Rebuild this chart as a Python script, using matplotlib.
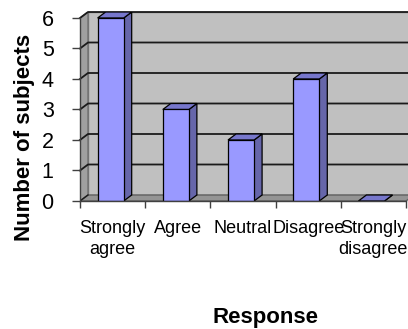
import matplotlib.pyplot as plt
from matplotlib.patches import Polygon

plt.rcParams['font.family'] = ['Liberation Sans', 'DejaVu Sans']

categories = ['Strongly\nagree', 'Agree', 'Neutral', 'Disagree', 'Strongly\ndisagree']
counts = [6, 3, 2, 4, 0]
y_ticks = [0, 1, 2, 3, 4, 5, 6]

W, H = 408, 329
fig = plt.figure(figsize=(W / 100, H / 100), dpi=100)

# front plane of the plot area in pixels, plus the 3-D depth offset
x0_px, x1_px = 80, 406
y0_px, y1_px = 201, 18
depth_px = (8, 6)
ncat = len(categories)
ymax = y_ticks[-1]
dx = depth_px[0] / ((x1_px - x0_px) / ncat)
dy = depth_px[1] / ((y0_px - y1_px) / ymax)

ax = fig.add_axes([x0_px / W, 1 - y0_px / H,
                   (x1_px - x0_px + depth_px[0]) / W,
                   (y0_px - y1_px + depth_px[1]) / H])
ax.set_xlim(-0.5, ncat - 0.5 + dx)
ax.set_ylim(0, ymax + dy)

left, right = -0.5, ncat - 0.5

# walls and floor
ax.add_patch(Polygon([(left + dx, dy), (right + dx, dy), (right + dx, ymax + dy), (left + dx, ymax + dy)],
                     closed=True, fc='#c0c0c0', ec='#808080', lw=1.0, zorder=0))
ax.add_patch(Polygon([(left, 0), (left + dx, dy), (left + dx, ymax + dy), (left, ymax)],
                     closed=True, fc='#a0a0a0', ec='#707070', lw=1.0, zorder=0.5))
ax.add_patch(Polygon([(left, 0), (right, 0), (right + dx, dy), (left + dx, dy)],
                     closed=True, fc='#949494', ec='#606060', lw=1.0, zorder=0.5))

# gridlines on the side wall and back wall
for v in y_ticks[1:]:
    ax.plot([left, left + dx, right + dx], [v, v + dy, v + dy],
            color='#1a1a1a', lw=1.3, zorder=1, clip_on=False)
ax.plot([left, left + dx], [0, dy], color='#1a1a1a', lw=1.0, zorder=1)

# 3-D bars
w = 0.4
shift = -0.03
for i, v in enumerate(counts):
    xl = i - w / 2 + shift
    xr = xl + w
    ax.add_patch(Polygon([(xr, 0), (xr + dx, dy), (xr + dx, v + dy), (xr, v)],
                         closed=True, fc='#6666aa', ec='black', lw=0.9, zorder=3))
    ax.add_patch(Polygon([(xl, v), (xr, v), (xr + dx, v + dy), (xl + dx, v + dy)],
                         closed=True, fc='#7777cc', ec='black', lw=0.9, zorder=3))
    if v > 0:
        ax.add_patch(Polygon([(xl, 0), (xr, 0), (xr, v), (xl, v)],
                             closed=True, fc='#9999ff', ec='black', lw=0.9, zorder=4))

# axes lines and ticks
for s in ['top', 'right']:
    ax.spines[s].set_visible(False)
ax.spines['left'].set_bounds(0, ymax)
ax.spines['bottom'].set_bounds(left, right)
for s in ['left', 'bottom']:
    ax.spines[s].set_color('#404040')
    ax.spines[s].set_linewidth(1.0)
    ax.spines[s].set_zorder(5)

ax.set_yticks(y_ticks)
ax.set_yticklabels([str(t) for t in y_ticks], fontsize=15.5)
ax.tick_params(axis='y', length=6, width=1.0, color='#404040', pad=13)

ax.set_xticks(range(ncat))
ax.set_xticklabels(categories, fontsize=13, linespacing=1.25)
ax.set_xticks([k - 0.5 for k in range(ncat + 1)], minor=True)
ax.tick_params(axis='x', which='major', length=0, pad=14)
ax.tick_params(axis='x', which='minor', length=5, width=1.0, color='#404040')

fig.text(25 / W, 1 - 137 / H, 'Number of subjects', rotation=90,
         ha='center', va='center', fontsize=16, fontweight='bold')
fig.text(265 / W, 1 - 317 / H, 'Response', ha='center', va='center',
         fontsize=16, fontweight='bold')

fig.savefig('out.png', dpi=100)
